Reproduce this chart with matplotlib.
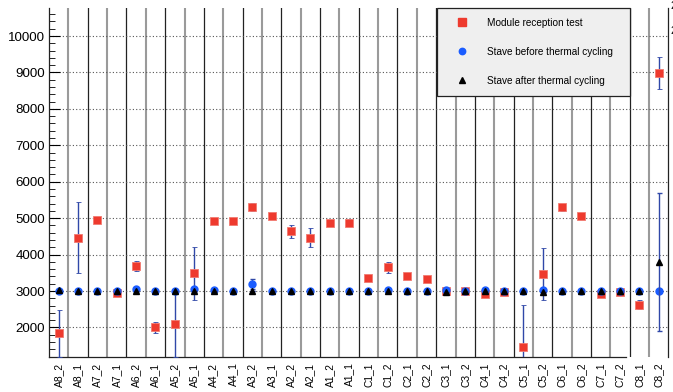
import matplotlib
matplotlib.use("Agg")
import matplotlib.pyplot as plt
from matplotlib.lines import Line2D
import numpy as np

plt.rcParams["font.family"] = ["Liberation Sans", "DejaVu Sans"]

# Modulos da stave, na ordem do eixo x
labels = ["A8_2", "A8_1", "A7_2", "A7_1", "A6_2", "A6_1", "A5_2", "A5_1",
          "A4_2", "A4_1", "A3_2", "A3_1", "A2_2", "A2_1", "A1_2", "A1_1",
          "C1_1", "C1_2", "C2_1", "C2_2", "C3_1", "C3_2", "C4_1", "C4_2",
          "C5_1", "C5_2", "C6_1", "C6_2", "C7_1", "C7_2", "C8_1", "C8_2"]

# Teste de recepcao dos modulos
reception = [1840, 4465, 4960, 2940, 3695, 2005, 2090, 3490,
             4915, 4910, 5300, 5070, 4640, 4465, 4875, 4875,
             3360, 3650, 3415, 3330, 3000, 3000, 2915, 2985,
             1475, 3470, 5300, 5065, 2920, 2985, 2625, 8975]
reception_err = [640, 970, 0, 0, 135, 150, 900, 730,
                 0, 0, 110, 80, 180, 260, 0, 90,
                 90, 150, 60, 70, 0, 0, 0, 0,
                 1135, 710, 100, 90, 50, 0, 120, 440]

# Stave antes do ciclo termico
before = [3010, 3000, 3000, 3000, 3050, 3000, 3010, 3050,
          3030, 3000, 3195, 3000, 3000, 3000, 3000, 3000,
          3000, 3030, 3000, 3000, 3030, 3000, 3030, 3000,
          3000, 3030, 3000, 3000, 2990, 3000, 3000, 3000]
before_err = [0, 0, 0, 0, 0, 0, 0, 0,
              0, 0, 145, 0, 0, 0, 0, 0,
              0, 0, 0, 0, 0, 0, 0, 0,
              0, 0, 0, 0, 0, 0, 0, 0]

# Stave depois do ciclo termico
after = [3020, 3000, 3000, 3000, 2990, 3000, 2990, 2990,
         3000, 3000, 3010, 3000, 3000, 3000, 3000, 3000,
         3000, 3010, 3000, 3000, 2980, 3000, 3000, 2990,
         3000, 2980, 3010, 2990, 3010, 3000, 3010, 3795]
after_err = [0, 0, 0, 0, 0, 0, 0, 0,
             0, 0, 0, 0, 0, 0, 0, 0,
             0, 0, 0, 0, 0, 0, 0, 0,
             0, 0, 0, 0, 0, 0, 0, 1900]

x = np.arange(len(labels))
red = "#ee3a2e"
blue = "#1a5cff"
ecol = "#3048a8"

fig = plt.figure(figsize=(6.73, 3.92), dpi=100)
ax = fig.add_axes([0.0728, 0.0893, 0.9205, 0.8903])

ax.set_xlim(-0.5, len(labels) - 0.5)
ax.set_ylim(1190, 10770)

# separadores verticais entre os modulos
for i in range(len(labels) - 1):
    if i % 2 == 0:
        ax.axvline(i + 0.5, color="#9a9a9a", lw=1.5, zorder=1)
    else:
        ax.axvline(i + 0.5, color="#222222", lw=0.9, zorder=1)

ax.set_yticks(np.arange(2000, 10001, 1000))
ax.set_yticks(np.arange(1200, 10770, 200), minor=True)
ax.yaxis.grid(True, which="major", color="#555555", lw=0.8,
              linestyle=(0, (1, 2)), zorder=0)

ax.errorbar(x, reception, yerr=reception_err, fmt="s", ms=5.8,
            mfc=red, mec="#f27a70", mew=0.6, ecolor=ecol, elinewidth=1,
            capsize=1.8, capthick=1, zorder=3)
ax.errorbar(x, before, yerr=before_err, fmt="o", ms=5,
            mfc=blue, mec=blue, ecolor=ecol, elinewidth=1,
            capsize=1.8, capthick=1, zorder=4)
ax.errorbar(x, after, yerr=after_err, fmt="^", ms=4.6,
            mfc="black", mec="black", ecolor=ecol, elinewidth=1,
            capsize=1.8, capthick=1, zorder=5)

ax.set_xticks(x)
ax.set_xticklabels(labels, rotation=90, fontsize=7.4)
ax.tick_params(axis="x", length=0, pad=4)
ax.tick_params(axis="y", which="major", direction="in", length=8,
               labelsize=9.6, pad=3)
ax.tick_params(axis="y", which="minor", direction="in", length=4)

ax.spines["top"].set_visible(False)
ax.spines["bottom"].set_bounds(-0.5, 29.3)
for s in ("left", "right", "bottom"):
    ax.spines[s].set_linewidth(0.9)
    ax.spines[s].set_color("#222222")

handles = [
    Line2D([], [], ls="none", marker="s", ms=5.2, mfc=red, mec=red),
    Line2D([], [], ls="none", marker="o", ms=4.6, mfc=blue, mec=blue),
    Line2D([], [], ls="none", marker="^", ms=4.4, mfc="black", mec="black"),
]
leg = ax.legend(handles,
                ["Module reception test", "Stave before thermal cycling",
                 "Stave after thermal cycling"],
                loc="upper left", bbox_to_anchor=(0.6263, 0.7479, 0.3116, 0.2521),
                mode="expand", borderaxespad=0, fontsize=7.2, numpoints=1,
                fancybox=False, framealpha=1, facecolor="#efefef",
                edgecolor="#222222", borderpad=1.0, labelspacing=1.9,
                handlelength=3.0, handletextpad=1.0)
leg.get_frame().set_linewidth(0.9)
leg.set_zorder(10)

fig.text(670 / 673, 1 - 9 / 392, "2", fontsize=7.2, ha="left")
fig.text(670 / 673, 1 - 34 / 392, "2", fontsize=7.2, ha="left")

fig.savefig("out.png", dpi=100)
